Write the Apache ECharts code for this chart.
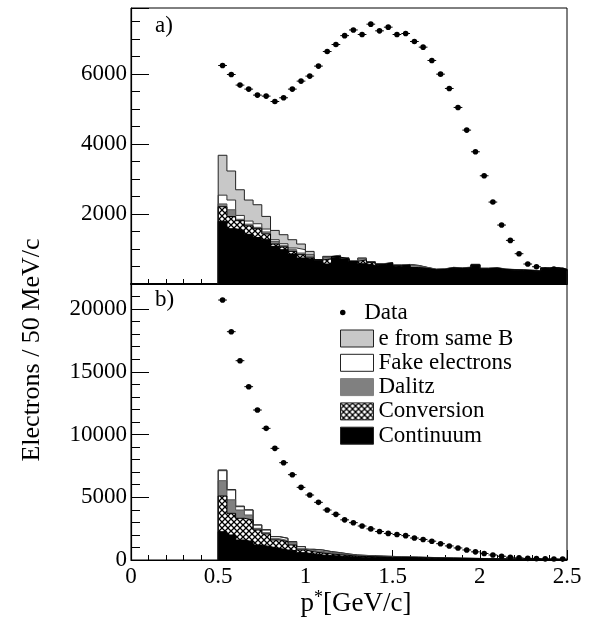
<!DOCTYPE html>
<html><head><meta charset="utf-8">
<script src="https://cdn.jsdelivr.net/npm/echarts@6/dist/echarts.min.js"></script>
<style>html,body{margin:0;padding:0;background:#fff}#c{width:592px;height:620px}</style>
</head><body><div id="c"></div>
<script>
// ---- binning / ticks ----
const binStart = 0.5, binWidth = 0.05, nBins = 40;
const xTickLabels = [0, 0.5, 1, 1.5, 2, 2.5];
const yTickLabelsTop = [2000, 4000, 6000];
const yTickLabelsBottom = [0, 5000, 10000, 15000, 20000];
const legendNames = ['Data', 'e from same B', 'Fake electrons', 'Dalitz', 'Conversion', 'Continuum'];

// ---- panel a) ----
const dataTop = [6246,5989,5686,5571,5400,5371,5217,5323,5571,5800,
  5943,6229,6646,6846,7100,7262,7132,7428,7237,7342,
  7132,7161,6932,6771,6390,5999,5590,5047,4399,3780,
  3094,2342,1685,1247,866,571,494,390,428,390];
const continuumTop = [1790,1580,1530,1420,1330,1266,1076,980,857,743,
  690,686,571,771,714,646,580,530,551,600,
  510,540,457,437,400,409,457,437,457,543,
  428,447,409,400,390,381,361,447,457,409];
const conversionTop = [419,350,280,240,250,164,67,80,75,94,
  55,0,150,15,0,0,110,90,10,0,
  10,0,15,10,5,5,0,5,5,0,
  5,5,0,0,5,0,0,5,0,5];
const dalitzTop = [81,193,40,50,40,60,74,34,48,49,
  55,4,40,20,15,5,35,10,10,5,
  15,10,45,20,10,10,10,10,10,10,
  10,5,10,5,5,5,10,5,5,5];
const fakeTop = [250,277,110,90,103,81,49,57,49,94,
  37,5,20,5,5,0,10,5,5,5,
  5,5,10,5,5,5,5,5,5,5,
  5,5,5,5,5,5,5,5,5,5];
const sameBTop = [1140,830,734,600,543,361,266,258,237,163,
  95,5,10,10,15,5,8,5,5,5,
  5,5,6,5,5,5,5,5,5,5,
  5,5,5,5,5,5,5,5,5,5];

// ---- panel b) ----
const dataBottom = [20722,18198,15886,13815,11955,10494,8900,7757,6801,5791,
  5181,4597,3985,3640,3200,2975,2710,2480,2270,2120,
  2030,1940,1750,1640,1500,1300,1120,960,800,650,
  520,400,300,220,170,130,110,90,80,70];
const continuumBottom = [2256,1993,1594,1461,1196,1063,930,797,744,584,
  478,398,350,319,266,240,228,212,200,188,
  176,166,156,146,136,126,116,106,98,90,
  82,75,68,62,56,50,45,41,37,33];
const conversionBottom = [2845,1727,1729,1727,1195,1009,664,664,452,213,
  172,162,130,101,94,60,52,46,41,37,
  33,30,27,24,21,19,17,15,13,12,
  11,10,9,8,7,6,6,5,5,4];
const dalitzBottom = [1221,1080,662,399,133,106,106,89,186,103,
  110,120,120,100,70,60,52,47,42,38,
  34,30,27,24,22,20,18,16,14,13,
  12,11,10,9,8,7,6,6,5,5];
const fakeBottom = [798,779,265,398,266,213,160,177,79,163,
  90,117,64,64,48,38,32,28,25,23,
  21,19,17,15,14,13,12,11,10,9,
  8,8,7,7,6,6,5,5,5,4];
const sameBBottom = [60,41,50,15,10,29,10,13,9,7,
  5,3,6,6,2,2,3,3,2,2,
  2,2,2,2,2,2,2,1,1,1,
  1,1,1,1,1,1,1,1,1,1];

// ---- styling ----
const FONT = 'Liberation Serif';
const hatch = document.createElement('canvas');
hatch.width = 6; hatch.height = 6;
(function () {
  const g = hatch.getContext('2d');
  g.fillStyle = '#fff'; g.fillRect(0, 0, 6, 6);
  g.strokeStyle = '#000'; g.lineWidth = 1.3;
  g.beginPath();
  g.moveTo(-1, -1); g.lineTo(7, 7);
  g.moveTo(7, -1); g.lineTo(-1, 7);
  g.stroke();
})();
const hatchFill = { image: hatch, repeat: 'repeat' };

const layerStyle = {
  'e from same B': { fill: '#c8c8c8', stroke: '#222' },
  'Fake electrons': { fill: '#ffffff', stroke: '#333' },
  'Dalitz': { fill: '#808080', stroke: '#555' },
  'Conversion': { fill: hatchFill, stroke: '#000' },
  'Continuum': { fill: '#000000', stroke: '#000' }
};

function cumulate(layers) {
  const out = []; let acc = new Array(nBins).fill(0);
  layers.forEach(l => { acc = acc.map((a, i) => a + l[i]); out.push(acc.slice()); });
  return out; // [cont, +conv, +dalitz, +fake, +sameB]
}
function stepData(vals) {
  const end = binStart + nBins * binWidth;
  const d = [[binStart, 0]];
  vals.forEach((v, i) => d.push([+(binStart + i * binWidth).toFixed(3), v]));
  d.push([end, vals[vals.length - 1]]);
  d.push([end, 0]);
  return d;
}
function histSeries(layers, xi, yi) {
  const cum = cumulate(layers);
  const names = ['Continuum', 'Conversion', 'Dalitz', 'Fake electrons', 'e from same B'];
  const series = [];
  for (let k = cum.length - 1; k >= 0; k--) {
    const st = layerStyle[names[k]];
    series.push({
      type: 'line', name: names[k], step: 'end', symbol: 'none',
      xAxisIndex: xi, yAxisIndex: yi, silent: true,
      data: stepData(cum[k]),
      lineStyle: { color: st.stroke, width: 1 },
      itemStyle: { color: st.stroke },
      areaStyle: { color: st.fill, opacity: 1 },
      z: 2
    });
  }
  return series;
}
function renderPoint(params, api) {
  const x = api.value(0), y = api.value(1);
  const p = api.coord([x, y]);
  const l = api.coord([x - binWidth / 2, y]);
  const r = api.coord([x + binWidth / 2, y]);
  return {
    type: 'group', children: [
      { type: 'line', shape: { x1: l[0], y1: l[1], x2: r[0], y2: r[1] }, style: { stroke: '#000', lineWidth: 1 } },
      { type: 'circle', shape: { cx: p[0], cy: p[1], r: 2.8 }, style: { fill: '#000' } }
    ]
  };
}
function dataSeries(vals, xi, yi) {
  return {
    type: 'custom', name: 'Data', xAxisIndex: xi, yAxisIndex: yi,
    encode: { x: 0, y: 1 }, z: 10, silent: true,
    itemStyle: { color: '#000' },
    data: vals.map((v, i) => [binStart + (i + 0.5) * binWidth, v]),
    renderItem: renderPoint
  };
}

function xAxis(gi, labels) {
  return {
    type: 'value', gridIndex: gi, min: 0, max: 2.5, interval: 0.5,
    axisLine: { show: true, onZero: false, lineStyle: { color: '#000', width: gi === 0 ? 2 : 1.2 } },
    axisTick: { show: true, inside: true, length: 10, lineStyle: { color: '#000' } },
    minorTick: { show: true, splitNumber: 5, length: 5, lineStyle: { color: '#000' } },
    splitLine: { show: false },
    axisLabel: labels ? {
      show: true, color: '#000', fontFamily: FONT, fontSize: 23, margin: 5,
      formatter: v => xTickLabels.includes(+v.toFixed(3)) ? String(+v.toFixed(3)) : ''
    } : { show: false }
  };
}
function yAxisMajor(gi, max, interval, labels) {
  return {
    type: 'value', gridIndex: gi, position: 'left', min: 0, max: max, interval: interval,
    axisLine: { show: true, onZero: false, lineStyle: { color: '#000', width: 1.2 } },
    axisTick: { show: true, inside: true, length: 18, lineStyle: { color: '#000' } },
    splitLine: { show: false },
    axisLabel: {
      show: true, color: '#000', fontFamily: FONT, fontSize: 23, margin: 4,
      formatter: v => labels.includes(v) ? String(v) : ''
    }
  };
}
function yAxisMinor(gi, max, interval) {
  return {
    type: 'value', gridIndex: gi, position: 'left', min: 0, max: max, interval: interval,
    axisLine: { show: false }, splitLine: { show: false }, axisLabel: { show: false },
    axisTick: { show: true, inside: true, length: 9, lineStyle: { color: '#000' } }
  };
}

const chart = echarts.init(document.getElementById('c'), null, { renderer: 'canvas' });
chart.setOption({
  animation: false,
  backgroundColor: '#fff',
  textStyle: { fontFamily: FONT, color: '#000' },
  grid: [
    { left: 131, top: 8, width: 436, height: 276, show: true, borderColor: '#000', borderWidth: 1, backgroundColor: 'transparent' },
    { left: 131, top: 284, width: 436, height: 276, show: true, borderColor: '#000', borderWidth: 1, backgroundColor: 'transparent' }
  ],
  xAxis: [xAxis(0, false), xAxis(1, true)],
  yAxis: [
    yAxisMajor(0, 7890, 2000, yTickLabelsTop),
    yAxisMinor(0, 7890, 500),
    yAxisMajor(1, 22000, 5000, yTickLabelsBottom),
    yAxisMinor(1, 22000, 1000)
  ],
  legend: [
    {
      data: [{ name: legendNames[0], icon: 'circle', itemStyle: { color: '#000' } }],
      left: 335, top: 296, orient: 'vertical', itemWidth: 33, itemHeight: 5.5,
      selectedMode: false, textStyle: { fontFamily: FONT, fontSize: 23, color: '#000' }
    },
    {
      data: legendNames.slice(1).map(n => ({
        name: n, icon: 'rect',
        itemStyle: { color: layerStyle[n].fill, borderColor: n === 'Dalitz' ? '#808080' : '#222', borderWidth: 1 }
      })),
      left: 335, top: 322, orient: 'vertical', itemWidth: 33, itemHeight: 17, itemGap: 1.3,
      selectedMode: false, textStyle: { fontFamily: FONT, fontSize: 23, color: '#000' }
    }
  ],
  graphic: [
    { type: 'text', left: 155, top: 14, style: { text: 'a)', fontFamily: FONT, fontSize: 23, fill: '#000' } },
    { type: 'text', left: 155, top: 288, style: { text: 'b)', fontFamily: FONT, fontSize: 23, fill: '#000' } },
    { type: 'text', x: 32, y: 350, rotation: Math.PI / 2,
      style: { text: 'Electrons / 50 MeV/c', fontFamily: FONT, fontSize: 26, fill: '#000', align: 'center', verticalAlign: 'middle' } },
    { type: 'text', x: 356, y: 604,
      style: {
        text: '{p|p}{s|*}{g|[GeV/c]}', align: 'center', verticalAlign: 'middle', fill: '#000',
        rich: {
          p: { fontFamily: FONT, fontSize: 27, fill: '#000' },
          s: { fontFamily: FONT, fontSize: 18, fill: '#000', verticalAlign: 'top', padding: [0, 0, 12, 0] },
          g: { fontFamily: FONT, fontSize: 27, fill: '#000' }
        }
      } }
  ],
  series: [
    ...histSeries([continuumTop, conversionTop, dalitzTop, fakeTop, sameBTop], 0, 0),
    dataSeries(dataTop, 0, 0),
    ...histSeries([continuumBottom, conversionBottom, dalitzBottom, fakeBottom, sameBBottom], 1, 2),
    dataSeries(dataBottom, 1, 2)
  ]
});
</script></body></html>
